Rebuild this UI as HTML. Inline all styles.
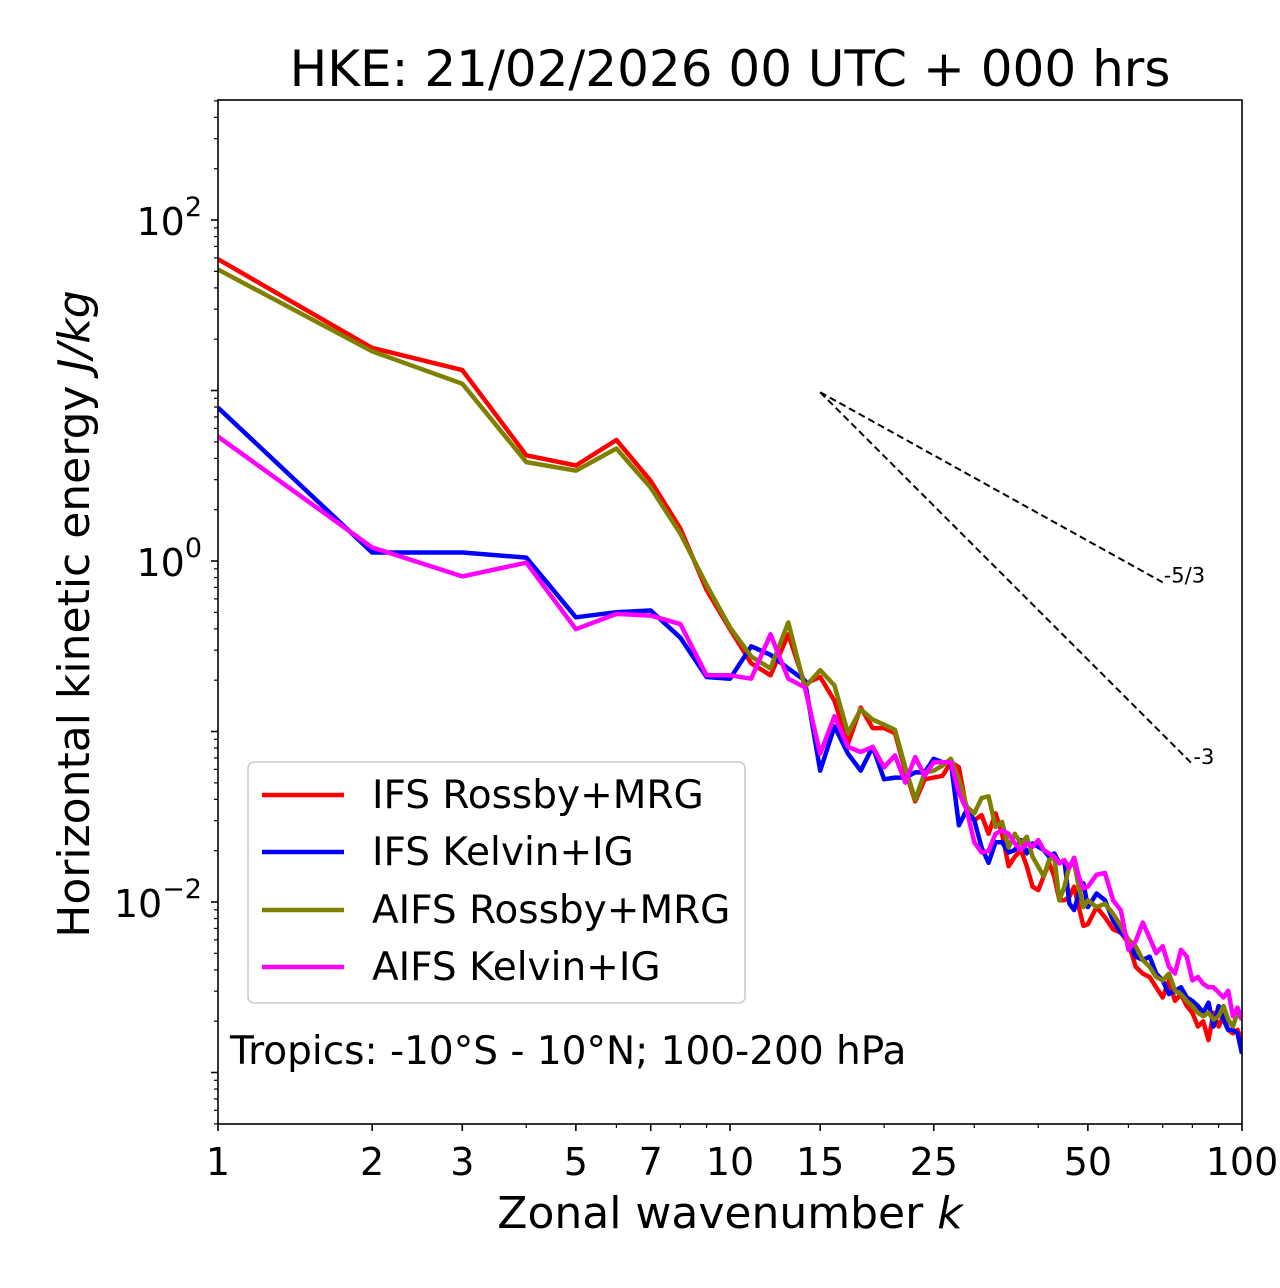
<!DOCTYPE html>
<html><head><meta charset="utf-8"><style>
html,body{margin:0;padding:0;background:#fff;}
svg{display:block;font-family:"DejaVu Sans","Liberation Sans",sans-serif;}
</style></head><body>
<svg id="chart" width="1280" height="1288" viewBox="0 0 1280 1288" xmlns="http://www.w3.org/2000/svg">
<rect width="1280" height="1288" fill="#fff"/>
<text x="730" y="86" font-size="50" text-anchor="middle">HKE: 21/02/2026 00 UTC + 000 hrs</text>
<g id="plot"></g>
<rect x="218" y="100" width="1024" height="1024" fill="none" stroke="#000" stroke-width="1.6"/>
<text x="730" y="1228" font-size="44" text-anchor="middle">Zonal wavenumber <tspan font-style="italic">k</tspan></text>
<text transform="translate(89,614) rotate(-90)" font-size="44" text-anchor="middle">Horizontal kinetic energy <tspan font-style="italic">J/kg</tspan></text>
<g>
<rect x="248" y="762" width="497" height="241" rx="6" fill="#fff" fill-opacity="0.8" stroke="#ccc" stroke-width="1.6"/>
<line x1="262" y1="795" x2="344" y2="795" stroke="#ff0000" stroke-width="4.5"/>
<text x="372" y="808" font-size="39">IFS Rossby+MRG</text>
<line x1="262" y1="852" x2="344" y2="852" stroke="#0000ff" stroke-width="4.5"/>
<text x="372" y="865" font-size="39">IFS Kelvin+IG</text>
<line x1="262" y1="910" x2="344" y2="910" stroke="#808000" stroke-width="4.5"/>
<text x="372" y="923" font-size="39">AIFS Rossby+MRG</text>
<line x1="262" y1="967" x2="344" y2="967" stroke="#ff00ff" stroke-width="4.5"/>
<text x="372" y="980" font-size="39">AIFS Kelvin+IG</text>
</g>
<text x="230" y="1064" font-size="39">Tropics: -10°S - 10°N; 100-200 hPa</text>
</svg>
<script>
const ks = [1,2,3,4,5,6,7,8,9,10,11,12,13,14,15,16,17,18,19,20,21,22,23,24,25,26,27,28,29,30,31,32,33,34,35,36,37,38,39,40,41,42,43,44,45,46,47,48,49,50,52,54,56,58,60,62,64,66,68,70,72,74,76,78,80,82,84,86,88,90,92,94,96,98,100];
const logIfsRossby = [1.77,1.25,1.12,0.62,0.56,0.71,0.47,0.19,-0.17,-0.40,
-0.60,-0.67,-0.43,-0.72,-0.68,-0.82,-1.07,-0.86,-0.98,-0.98,-1.01,-1.23,-1.41,-1.28,-1.27,-1.26,-1.18,-1.21,-1.46,-1.52,-1.49,-1.60,-1.48,-1.60,-1.79,
-1.735,-1.695,-1.79,-1.91,-1.93,-1.85,-1.77,-1.85,-1.99,-1.99,-1.97,-1.91,-2.03,-2.14,-2.13,
-2.03,-2.09,-2.16,-2.18,-2.24,-2.38,-2.42,-2.44,-2.50,-2.56,-2.46,-2.58,-2.54,-2.61,-2.65,-2.73,-2.70,-2.81,-2.65,-2.73,-2.67,-2.75,-2.77,-2.75,-2.81];
const logIfsKelvin = [0.90,0.05,0.05,0.02,-0.33,-0.30,-0.29,-0.45,-0.68,-0.69,
-0.50,-0.55,-0.63,-0.70,-1.23,-0.97,-1.13,-1.23,-1.09,-1.28,-1.27,-1.27,-1.24,-1.24,-1.16,-1.18,-1.18,-1.55,-1.46,-1.52,-1.68,-1.77,-1.65,-1.65,-1.71,
-1.695,-1.637,-1.715,-1.656,-1.676,-1.695,-1.735,-1.715,-1.773,-1.754,-2.008,-2.047,-1.95,-1.89,-2.03,
-1.95,-1.99,-2.11,-2.18,-2.22,-2.32,-2.34,-2.32,-2.42,-2.46,-2.54,-2.52,-2.50,-2.56,-2.58,-2.61,-2.65,-2.59,-2.73,-2.61,-2.69,-2.75,-2.75,-2.77,-2.89];
const logAifsRossby = [1.71,1.23,1.04,0.58,0.53,0.66,0.43,0.16,-0.14,-0.39,
-0.56,-0.63,-0.36,-0.74,-0.64,-0.73,-1.01,-0.87,-0.93,-0.96,-0.99,-1.21,-1.40,-1.24,-1.23,-1.20,-1.16,-1.28,-1.44,-1.48,-1.39,-1.38,-1.56,-1.53,-1.68,
-1.60,-1.656,-1.617,-1.735,-1.793,-1.85,-1.754,-1.735,-1.99,-1.91,-1.79,-1.77,-1.91,-2.03,-1.99,
-2.03,-2.01,-2.07,-2.14,-2.22,-2.26,-2.34,-2.38,-2.44,-2.46,-2.42,-2.52,-2.54,-2.58,-2.61,-2.65,-2.67,-2.65,-2.69,-2.67,-2.61,-2.69,-2.73,-2.65,-2.69];
const logAifsKelvin = [0.73,0.08,-0.09,-0.01,-0.40,-0.31,-0.32,-0.37,-0.67,-0.67,
-0.69,-0.43,-0.69,-0.74,-1.13,-0.91,-1.09,-1.12,-1.09,-1.21,-1.14,-1.30,-1.15,-1.26,-1.18,-1.18,-1.18,-1.36,-1.46,-1.65,-1.71,-1.70,-1.60,-1.58,-1.60,
-1.656,-1.695,-1.656,-1.676,-1.637,-1.695,-1.715,-1.735,-1.773,-1.754,-1.80,-1.74,-1.85,-1.92,-1.91,
-1.84,-1.83,-1.99,-2.05,-2.28,-2.23,-2.12,-2.21,-2.30,-2.26,-2.38,-2.42,-2.28,-2.32,-2.46,-2.44,-2.48,-2.50,-2.50,-2.53,-2.56,-2.52,-2.67,-2.62,-2.69];
const xTickLabels = [1,2,3,5,7,10,15,25,50,100];
const yTickExps = [2,0,-2];
const refStartK = 15, refStartLogE = 0.99;
const refSlopes = [-5/3, -3];
const refEndK = [70, 80];
const refLabels = ["-5/3", "-3"];

const NS = "http://www.w3.org/2000/svg";
const X0 = 218, X1 = 1242, Y0 = 100, Y1 = 1124;
const xMin = 0, xMax = 2;
const yMin = -3.302, yMax = 2.704;
function xs(k){ return X0 + (Math.log10(k) - xMin) / (xMax - xMin) * (X1 - X0); }
function ysLog(l){ return Y1 - (l - yMin) / (yMax - yMin) * (Y1 - Y0); }
const plot = document.getElementById('plot');
function mk(tag, attrs){ const e = document.createElementNS(NS, tag); for (const a in attrs) e.setAttribute(a, attrs[a]); return e; }

for (let k = 1; k <= 100; k++) {
  const isMajor = xTickLabels.includes(k);
  const d = Math.pow(10, Math.floor(Math.log10(k) + 1e-9));
  if (!isMajor && k % d !== 0) continue;
  const x = xs(k);
  const t = mk('line', {x1:x, y1:Y1, x2:x, y2:Y1 + (isMajor ? 7 : 4), stroke:'#000', 'stroke-width': isMajor ? 1.6 : 1.2});
  
  
  plot.appendChild(t);
  if (isMajor) {
    const lb = mk('text', {x:x, y:1175, 'font-size':38, 'text-anchor':'middle'});
    lb.textContent = k;
    
    
    plot.appendChild(lb);
  }
}
for (let e = -4; e <= 2; e++) {
  for (let m = 1; m <= 9; m++) {
    const l = e + Math.log10(m);
    if (l < yMin || l > yMax) continue;
    const y = ysLog(l);
    const major = (m === 1);
    const t = mk('line', {x1:X0, y1:y, x2:X0 - (major ? 7 : 4), y2:y, stroke:'#000', 'stroke-width': major ? 1.6 : 1.2});
    
    
    plot.appendChild(t);
  }
}
yTickExps.forEach(e => {
  const y = ysLog(e);
  const lb = mk('text', {x:202, y:y + 15, 'font-size':38, 'text-anchor':'end'});
  lb.innerHTML = '10<tspan dy="-19" font-size="27">' + (e < 0 ? '\u2212' + (-e) : e) + '</tspan>';
  
  
  plot.appendChild(lb);
});
refSlopes.forEach((s, i) => {
  const x1 = xs(refStartK), y1 = ysLog(refStartLogE);
  const le = refStartLogE + s * Math.log10(refEndK[i] / refStartK);
  const x2 = xs(refEndK[i]), y2 = ysLog(le);
  const ln = mk('line', {x1:x1, y1:y1, x2:x2, y2:y2, stroke:'#000', 'stroke-width':2, 'stroke-dasharray':'7,4'});
  
  
  plot.appendChild(ln);
  const tx = mk('text', {x:x2 + 1, y:y2 + 0, 'font-size':21});
  tx.textContent = refLabels[i];
  
  
  plot.appendChild(tx);
});
const clip = mk('clipPath', {id:'pc'}); clip.appendChild(mk('rect', {x:X0, y:Y0, width:X1-X0, height:Y1-Y0}));
plot.appendChild(clip);
const series = [[logIfsRossby,'#ff0000','series-ifs-rossby-mrg'],[logIfsKelvin,'#0000ff','series-ifs-kelvin-ig'],[logAifsRossby,'#808000','series-aifs-rossby-mrg'],[logAifsKelvin,'#ff00ff','series-aifs-kelvin-ig']];
series.forEach(s => {
  const pts = ks.map((k, i) => xs(k).toFixed(1) + ',' + ysLog(s[0][i]).toFixed(1)).join(' ');
  const pl = mk('polyline', {points:pts, fill:'none', stroke:s[1], 'stroke-width':4.5, 'stroke-linejoin':'round', 'clip-path':'url(#pc)'});
  
  
  plot.appendChild(pl);
});
</script>
</body></html>
